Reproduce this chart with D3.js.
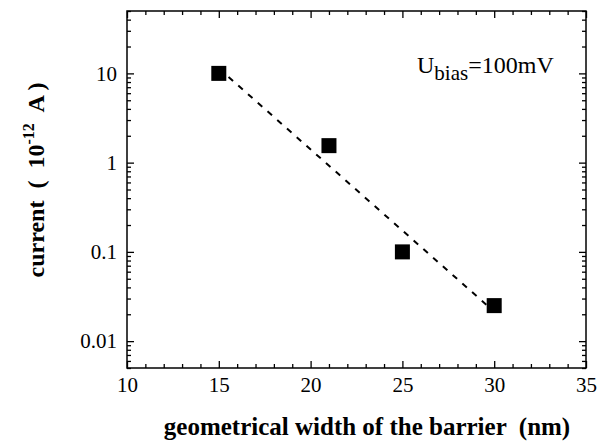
<!DOCTYPE html>
<html>
<head>
<meta charset="utf-8">
<script src="https://cdn.jsdelivr.net/npm/d3@7"></script>
<style>
  body { margin: 0; background: #fff; }
  svg text { font-family: "Liberation Serif", "Times New Roman", Times, serif; fill: #000; }
  .domain { display: none; }
</style>
</head>
<body>
<div class="chart"></div>
<script>
// data
var widths = [15, 21, 25, 30];            // barrier width (nm)
var currents = [10, 1.55, 0.1, 0.025];    // current (1e-12 A)
var fitX = [15, 30];                      // dashed fit line ends
var fitY = [11.4, 0.0214];
var xTicks = [10, 15, 20, 25, 30, 35];
var yTicks = [0.01, 0.1, 1, 10];
var yTickLabels = ["0.01", "0.1", "1", "10"];

var svgWidth = 603;
var svgHeight = 445;

var plot = { left: 127, right: 586, top: 11, bottom: 368 };

var svg = d3.select(".chart")
  .append("svg")
  .attr("width", svgWidth)
  .attr("height", svgHeight);

var x = d3.scaleLinear()
  .domain([10, 35])
  .range([plot.left, plot.right]);

var y = d3.scaleLog()
  .domain([0.005, 50])
  .range([plot.bottom, plot.top]);

// minor tick positions
var xMinor = d3.range(10, 36, 1).filter(d => d % 5 !== 0);
var yMinor = [];
[0.001, 0.01, 0.1, 1, 10].forEach(function(dec) {
  for (var k = 2; k <= 9; k++) {
    var v = dec * k;
    if (v >= 0.005 && v <= 50) yMinor.push(+v.toPrecision(3));
  }
});

var majorLen = 7, minorLen = 4;

function styleTicks(g) {
  g.attr("font-family", null);
  g.selectAll("line").attr("stroke", "#000").attr("stroke-width", 1.3);
}

// bottom axis
svg.append("g")
  .attr("transform", `translate(0, ${plot.bottom})`)
  .call(d3.axisBottom(x).tickValues(xTicks).tickSize(-majorLen).tickPadding(9).tickFormat(d3.format("d")))
  .call(styleTicks)
  .call(g => g.selectAll("text").attr("font-size", "21px"));
svg.append("g")
  .attr("transform", `translate(0, ${plot.bottom})`)
  .call(d3.axisBottom(x).tickValues(xMinor).tickSize(-minorLen).tickFormat(""))
  .call(styleTicks);

// top axis
svg.append("g")
  .attr("transform", `translate(0, ${plot.top})`)
  .call(d3.axisTop(x).tickValues(xTicks).tickSize(-majorLen).tickFormat(""))
  .call(styleTicks);
svg.append("g")
  .attr("transform", `translate(0, ${plot.top})`)
  .call(d3.axisTop(x).tickValues(xMinor).tickSize(-minorLen).tickFormat(""))
  .call(styleTicks);

// left axis
svg.append("g")
  .attr("transform", `translate(${plot.left}, 0)`)
  .call(d3.axisLeft(y).tickValues(yTicks).tickSize(-majorLen).tickPadding(10)
    .tickFormat((d, i) => yTickLabels[i]))
  .call(styleTicks)
  .call(g => g.selectAll("text").attr("font-size", "21px"));
svg.append("g")
  .attr("transform", `translate(${plot.left}, 0)`)
  .call(d3.axisLeft(y).tickValues(yMinor).tickSize(-minorLen).tickFormat(""))
  .call(styleTicks);

// right axis
svg.append("g")
  .attr("transform", `translate(${plot.right}, 0)`)
  .call(d3.axisRight(y).tickValues(yTicks).tickSize(-majorLen).tickFormat(""))
  .call(styleTicks);
svg.append("g")
  .attr("transform", `translate(${plot.right}, 0)`)
  .call(d3.axisRight(y).tickValues(yMinor).tickSize(-minorLen).tickFormat(""))
  .call(styleTicks);

// frame
svg.append("rect")
  .attr("x", plot.left)
  .attr("y", plot.top)
  .attr("width", plot.right - plot.left)
  .attr("height", plot.bottom - plot.top)
  .attr("fill", "none")
  .attr("stroke", "#000")
  .attr("stroke-width", 1.5);

// dashed fit line
var line = d3.line()
  .x(d => x(d[0]))
  .y(d => y(d[1]));

svg.append("path")
  .datum(d3.zip(fitX, fitY))
  .attr("d", line)
  .attr("fill", "none")
  .attr("stroke", "#000")
  .attr("stroke-width", 2)
  .attr("stroke-dasharray", "6,7");

// data squares
var size = 15;
svg.selectAll("rect.pt")
  .data(d3.zip(widths, currents))
  .enter()
  .append("rect")
  .attr("class", "pt")
  .attr("x", d => x(d[0]) - size / 2)
  .attr("y", d => y(d[1]) - size / 2)
  .attr("width", size)
  .attr("height", size)
  .attr("fill", "#000");

// annotation
var note = svg.append("text")
  .attr("x", 417)
  .attr("y", 73)
  .attr("font-size", "24px");
note.append("tspan").text("U");
note.append("tspan").attr("dy", 7).attr("font-size", "21px").text("bias");
note.append("tspan").attr("dy", -7).text("=100mV");

// axis titles
svg.append("text")
  .attr("x", 367)
  .attr("y", 435)
  .attr("text-anchor", "middle")
  .attr("font-size", "25px")
  .attr("font-weight", "bold")
  .style("white-space", "pre")
  .text("geometrical width of the barrier  (nm)");

var yTitle = svg.append("text")
  .attr("transform", "translate(44, 180) rotate(-90)")
  .attr("text-anchor", "middle")
  .attr("font-size", "24px")
  .attr("font-weight", "bold")
  .style("white-space", "pre");
yTitle.append("tspan").text("current  (  10");
yTitle.append("tspan").attr("dy", -10).attr("font-size", "16px").text("-12");
yTitle.append("tspan").attr("dy", 10).text("  A )");
</script>
</body>
</html>
